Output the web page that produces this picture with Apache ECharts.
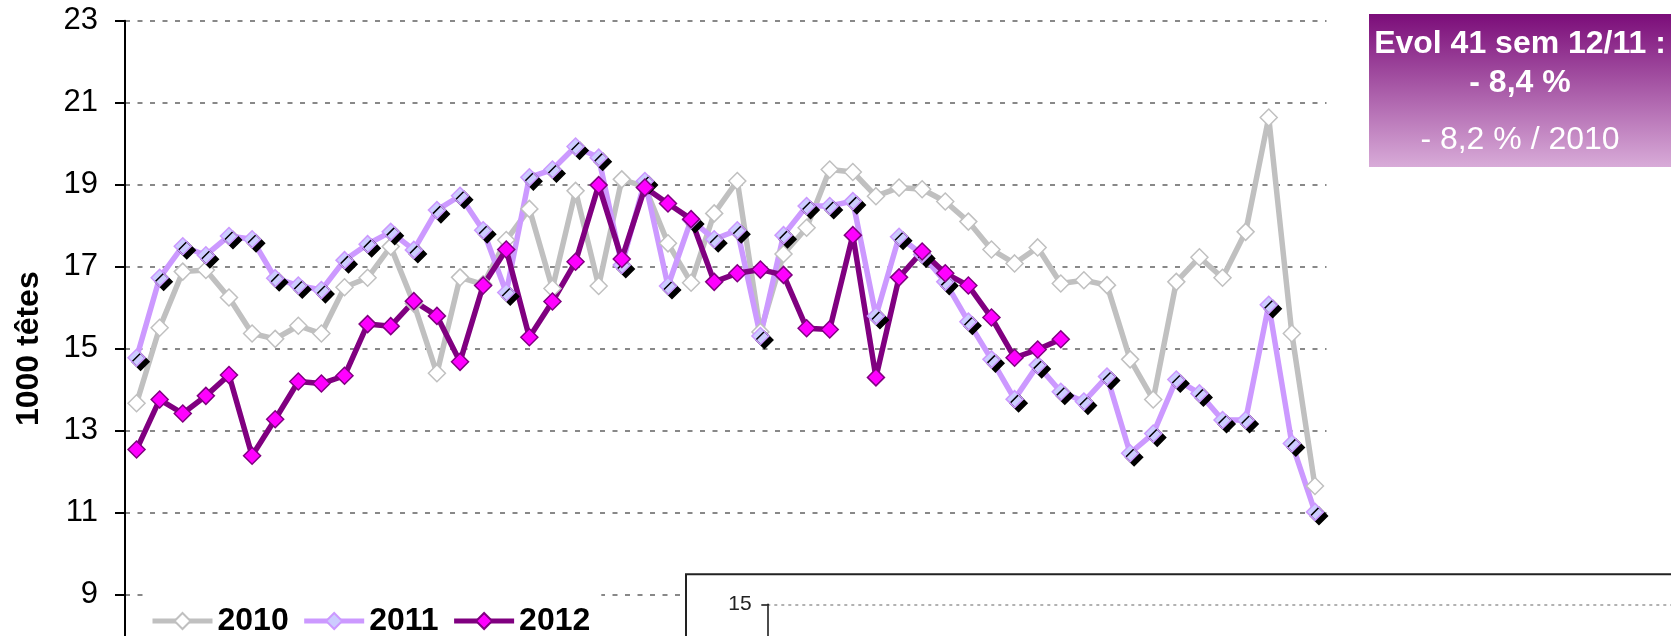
<!DOCTYPE html>
<html>
<head>
<meta charset="utf-8">
<script src="https://cdn.jsdelivr.net/npm/echarts@6/dist/echarts.min.js"></script>
<style>
  html, body { margin: 0; padding: 0; background: #fff; overflow: hidden; }
  #chart { width: 1671px; height: 636px; }
</style>
</head>
<body>
<div id="chart"></div>
<script>
// semaines 1..52
const weeks = [];
for (let w = 1; w <= 52; w++) weeks.push(String(w));

const tonnes2010 = [13.67, 15.51, 16.88, 16.92, 16.25, 15.37, 15.24, 15.56, 15.37, 16.50,
  16.73, 17.49, 16.10, 14.40, 16.74, 16.57, 17.65, 18.41, 16.47, 18.85,
  16.53, 19.13, 18.95, 17.57, 16.61, 18.30, 19.09, 15.41, 17.31, 17.95,
  19.37, 19.31, 18.72, 18.93, 18.89, 18.59, 18.10, 17.42, 17.08, 17.47,
  16.59, 16.67, 16.55, 14.74, 13.76, 16.63, 17.23, 16.73, 17.85, 20.64,
  15.37, 11.65];

const tonnes2011 = [14.78, 16.73, 17.50, 17.28, 17.75, 17.67, 16.72, 16.54, 16.43, 17.16,
  17.55, 17.85, 17.41, 18.38, 18.73, 17.89, 16.37, 19.18, 19.37, 19.93,
  19.66, 17.04, 19.09, 16.53, 18.14, 17.67, 17.89, 15.31, 17.77, 18.48,
  18.48, 18.60, 15.80, 17.73, 17.30, 16.63, 15.66, 14.74, 13.77, 14.60,
  13.95, 13.71, 14.32, 12.45, 12.93, 14.25, 13.91, 13.26, 13.26, 16.07,
  12.69, 11.02];

const tonnes2012 = [12.54, 13.76, 13.42, 13.85, 14.36, 12.39, 13.28, 14.20, 14.15, 14.34,
  15.60, 15.55, 16.16, 15.80, 14.68, 16.54, 17.42, 15.28, 16.15, 17.12,
  18.99, 17.19, 18.93, 18.54, 18.16, 16.63, 16.84, 16.93, 16.80, 15.50,
  15.47, 17.77, 14.30, 16.74, 17.37, 16.84, 16.54, 15.76, 14.78, 14.98,
  15.23];

const yTicks = { min: 7, max: 23, step: 2 };
const boxLines = ['Evol 41 sem 12/11 :', '- 8,4 %', '- 8,2 % / 2010'];

const font = '"Liberation Sans", Arial, sans-serif';
const chart = echarts.init(document.getElementById('chart'));

const option = {
  animation: false,
  textStyle: { fontFamily: font },
  grid: [
    { left: 125, top: 20.7, width: 1201.5, height: 656, containLabel: false, outerBoundsMode: 'none' },
    { left: 767.3, top: 604.3, width: 1000, height: 300, containLabel: false, outerBoundsMode: 'none' }
  ],
  legend: {
    left: 143,
    top: 593,
    padding: [10, 11, 40, 7],
    backgroundColor: '#fff',
    itemWidth: 60,
    itemHeight: 20,
    itemGap: 13,
    lineStyle: { width: 5 },
    textStyle: { fontSize: 32, fontWeight: 'bold', color: '#000', fontFamily: font, lineHeight: 36 },
    data: [
      { name: '2010' },
      { name: '2011', itemStyle: { shadowColor: 'rgba(0,0,0,0)', shadowOffsetX: 0, shadowOffsetY: 0 } },
      { name: '2012' }
    ]
  },
  xAxis: [
    { type: 'category', gridIndex: 0, data: weeks, boundaryGap: true, show: false },
    { type: 'category', gridIndex: 1, data: weeks, show: false }
  ],
  yAxis: [
    {
      type: 'value', gridIndex: 0,
      min: yTicks.min, max: yTicks.max, interval: yTicks.step,
      name: '1000 têtes',
      nameLocation: 'middle',
      nameGap: 80,
      nameTextStyle: { fontSize: 32, fontWeight: 'bold', color: '#000', fontFamily: font },
      axisLine: { show: true, lineStyle: { color: '#000', width: 2 } },
      axisTick: { show: true, length: 10, lineStyle: { color: '#000', width: 2 } },
      axisLabel: { fontSize: 31, color: '#000', margin: 27, fontFamily: font },
      splitLine: { show: true, lineStyle: { color: '#888', width: 2, type: [5, 7.5] } }
    },
    {
      type: 'value', gridIndex: 1, z: 10,
      min: 0, max: 15, interval: 5,
      axisLine: { show: true, lineStyle: { color: '#111', width: 1.5 } },
      axisTick: { show: true, length: 6, lineStyle: { color: '#111', width: 1.5 } },
      axisLabel: { fontSize: 21, color: '#222', margin: 15.6, fontFamily: font },
      splitLine: { show: true, lineStyle: { color: '#999', width: 1.5, type: [3, 4] } }
    }
  ],
  series: [
    {
      name: '2010', type: 'line', data: tonnes2010,
      symbol: 'diamond', symbolSize: 17,
      lineStyle: { color: '#C0C0C0', width: 5.5 },
      itemStyle: { color: '#FFFFFF', borderColor: '#C0C0C0', borderWidth: 1.5 },
      emphasis: { disabled: true }
    },
    {
      name: '2011', type: 'line', data: tonnes2011,
      symbol: 'diamond', symbolSize: 17,
      lineStyle: { color: '#CC99FF', width: 5.5 },
      itemStyle: {
        color: '#CCCCFF', borderColor: '#CC99FF', borderWidth: 1.5,
        shadowColor: '#000', shadowBlur: 0, shadowOffsetX: 4, shadowOffsetY: 4
      },
      emphasis: { disabled: true }
    },
    {
      name: '2012', type: 'line', data: tonnes2012,
      symbol: 'diamond', symbolSize: 17,
      lineStyle: { color: '#800080', width: 5.5 },
      itemStyle: { color: '#FF00FF', borderColor: '#800080', borderWidth: 1.5 },
      emphasis: { disabled: true }
    }
  ],
  graphic: [
    {
      type: 'rect', z: 5,
      shape: { x: 686, y: 574.3, width: 1100, height: 200 },
      style: { fill: '#fff', stroke: '#222', lineWidth: 2 }
    },
    {
      type: 'rect', z: 20,
      shape: { x: 1369, y: 14, width: 310, height: 153 },
      style: {
        fill: new echarts.graphic.LinearGradient(0, 0, 0, 1, [
          { offset: 0, color: '#7B0D79' },
          { offset: 1, color: '#D8ABD8' }
        ])
      }
    },
    {
      type: 'text', z: 21, x: 1520, y: 44,
      style: { text: boxLines[0], fill: '#fff', font: 'bold 32px ' + font, align: 'center', verticalAlign: 'middle' }
    },
    {
      type: 'text', z: 21, x: 1520, y: 83,
      style: { text: boxLines[1], fill: '#fff', font: 'bold 32px ' + font, align: 'center', verticalAlign: 'middle' }
    },
    {
      type: 'text', z: 21, x: 1520, y: 140,
      style: { text: boxLines[2], fill: '#fff', font: '32px ' + font, align: 'center', verticalAlign: 'middle' }
    }
  ]
};

chart.setOption(option);
</script>
</body>
</html>
